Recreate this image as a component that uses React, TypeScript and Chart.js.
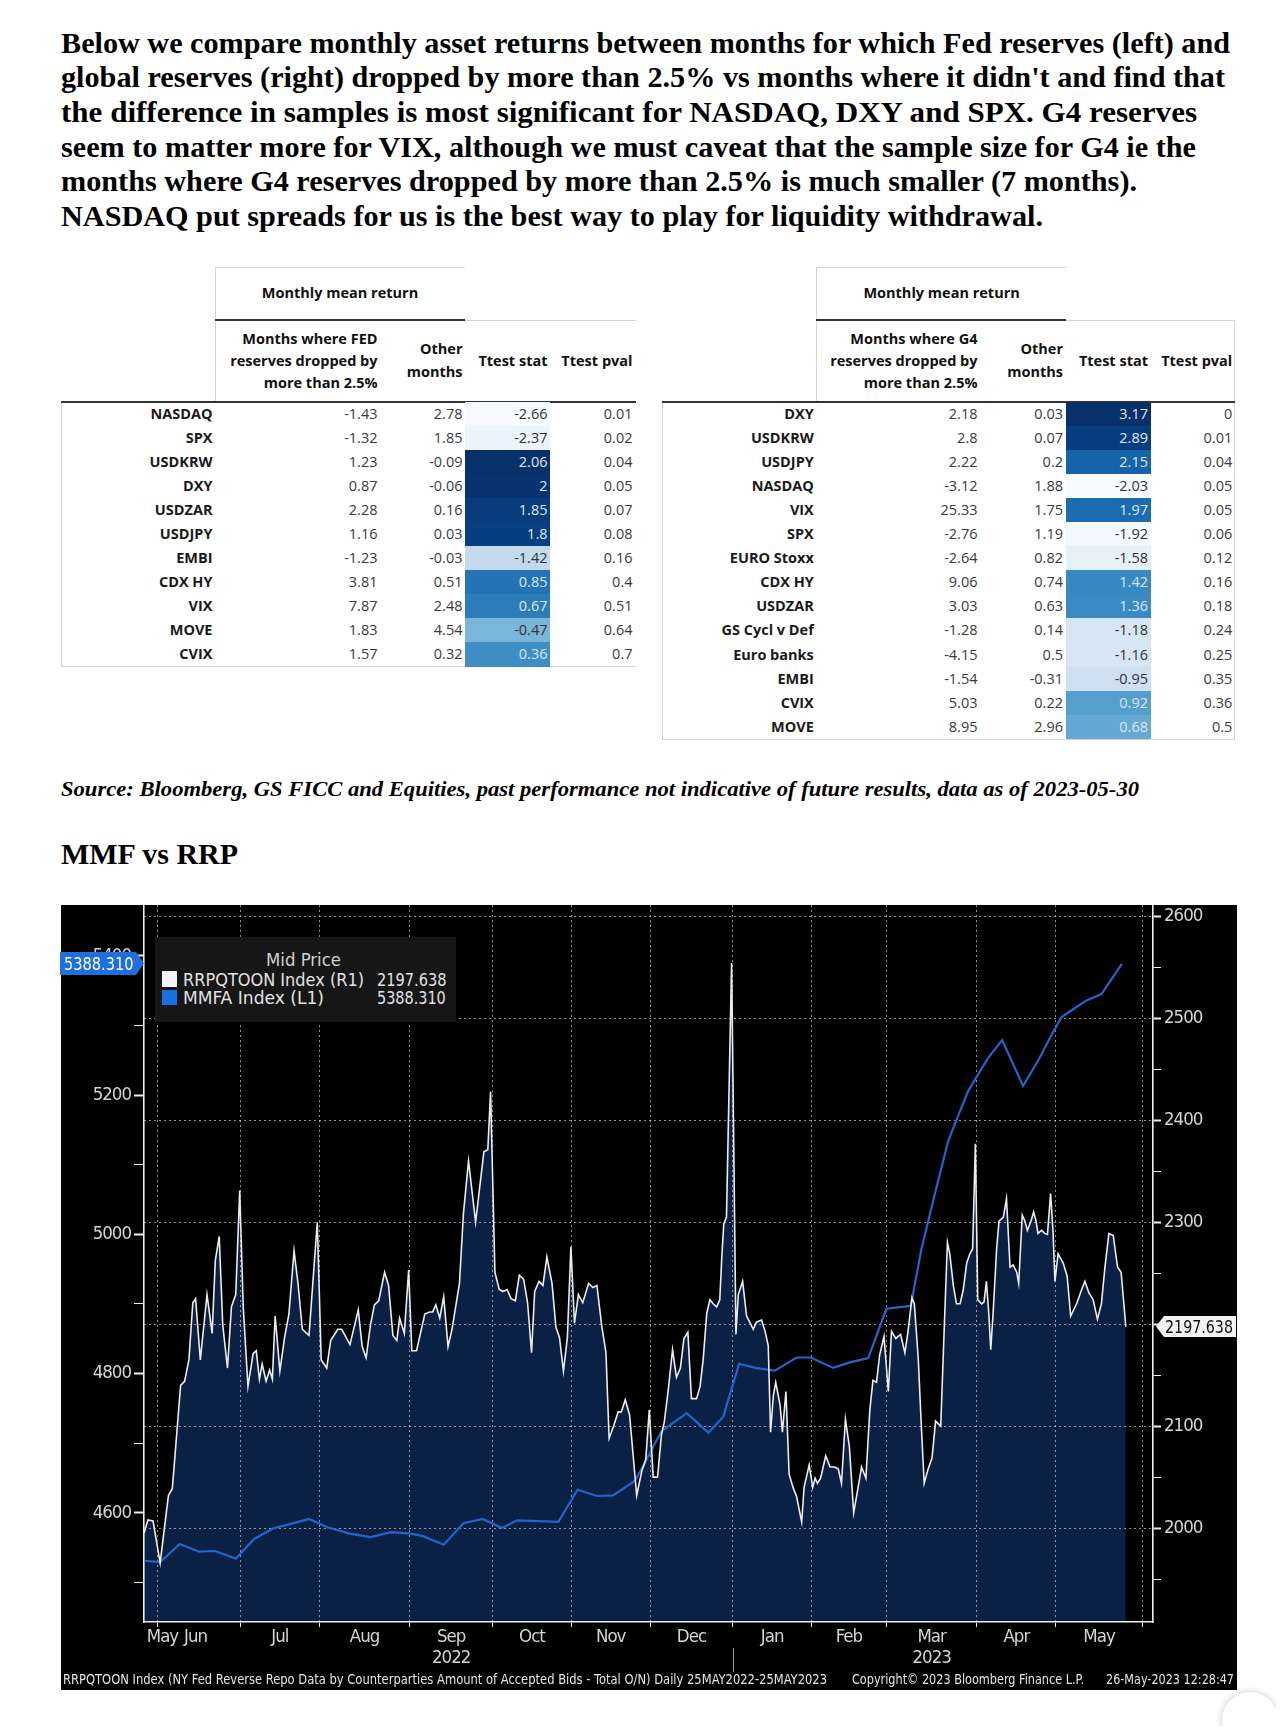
import React, { useEffect, useLayoutEffect, useRef } from "react";
import { Chart, registerables } from "chart.js";

Chart.register(...registerables);

// ---------------- DATA ----------------
// RRPQTOON Index (right axis), x = trading-day index from 25-May-2022
const rrpDay = [0,1,2.3,4.1,6.2,7.2,9.3,10.3,11.4,12.4,13.1,14.3,16,17.3,18.1,19.1,20,21.2,22.2,23.3,24.3,25.2,26.4,27.7,28.5,29.3,30,31,31.9,32.6,33.3,34.5,35.7,36.8,38.1,39.1,40.2,41.9,44,45,46.4,47.4,49.2,50.2,52.3,54.4,55.4,56.4,57.5,58.5,59.6,61.1,62.1,63.2,64.2,64.9,66.1,67.2,68,69.2,71.3,72.5,73.3,74.1,75.1,76.1,77.2,78.2,80.1,81.1,82.4,84.2,86.3,87.3,88,89.1,90.2,91.1,92.2,93.2,94.3,95.3,96.4,97.4,98.4,99.2,100.3,101.3,102.3,103.6,104.6,105.5,106.5,107.5,108.4,109.3,110.3,111.4,112.9,114,115,116.2,117.3,118.1,119.3,120.4,121.2,122.2,123.3,125.1,126.4,127.4,128.3,129.3,130.4,131.4,132.1,133.1,134.2,135.2,136.2,137.1,138.1,139,140.3,141.2,142,142.9,143.7,144.5,145.4,146.2,146.7,147.2,147.9,149.2,150.3,150.9,152,153,153.8,154.7,155.5,156.8,157.7,158.5,159.1,159.8,160.4,161.5,162.1,163,163.8,164.8,165.7,167,167.6,168.9,169.8,170.4,171,171.8,173.1,174.2,175.4,176.3,177.1,178.1,179.1,180.2,181.1,182.2,183.3,184.3,185.1,186,186.8,187.9,189,189.8,190.9,192.1,193.2,194,195,195.6,196.6,197.4,198.1,199.1,200.1,201,202.3,203.2,204,204.6,205.5,206.3,207.2,208,208.9,209.7,210.4,211.1,211.7,212.7,213.3,213.9,214.5,215,215.6,216.5,217.1,218.2,219,219.9,220.7,221.6,222.1,223,223.7,224.3,225.2,225.9,226.5,227,227.9,228.7,229.4,230.2,230.8,231.3,232.1,233.4,234.4,235.3,236.8,238,238.9,239.9,241,242.1,243.1,244,245,246.1,247.2,248.1,249.3];
const rrpVal = [1995,2008,2007,1966,2032,2039,2140,2144,2165,2221,2225,2165,2229,2191,2262,2286,2199,2157,2217,2229,2331,2217,2139,2171,2174,2146,2161,2144,2155,2146,2208,2154,2187,2210,2272,2240,2195,2189,2300,2165,2157,2184,2195,2195,2180,2214,2178,2167,2199,2219,2223,2251,2238,2189,2184,2206,2191,2253,2174,2174,2210,2212,2212,2219,2206,2227,2178,2195,2240,2308,2360,2300,2369,2371,2428,2251,2234,2232,2234,2225,2223,2248,2244,2221,2172,2232,2242,2238,2266,2240,2197,2187,2154,2187,2276,2201,2229,2221,2240,2236,2238,2199,2172,2088,2101,2114,2114,2126,2111,2032,2056,2067,2116,2050,2050,2092,2104,2135,2175,2148,2157,2186,2192,2127,2127,2139,2166,2211,2224,2220,2217,2224,2265,2298,2305,2554,2190,2229,2242,2208,2202,2195,2202,2204,2193,2179,2094,2130,2143,2121,2094,2134,2053,2040,2031,2006,2040,2062,2040,2049,2044,2049,2071,2060,2060,2058,2044,2107,2080,2015,2035,2060,2049,2116,2145,2143,2170,2188,2134,2193,2186,2190,2172,2193,2226,2220,2166,2098,2044,2058,2069,2105,2100,2197,2280,2269,2238,2220,2220,2233,2260,2269,2274,2377,2224,2220,2222,2242,2211,2175,2211,2274,2301,2305,2323,2256,2258,2251,2240,2307,2301,2292,2301,2310,2301,2289,2292,2289,2288,2328,2292,2242,2269,2260,2247,2208,2220,2233,2242,2231,2224,2205,2220,2256,2289,2287,2256,2251,2197.6];

// MMFA Index (left axis), weekly
const mmfDay = [0.2,4.1,9.1,14,18.1,23.3,27.9,32.6,37.3,41.9,46.6,52.3,57.5,62.7,67.8,71,76.1,81.1,86,90.9,94.8,100,105.2,110.1,115,119.1,124.7,131.4,137.8,143.3,147.1,151.1,155.1,160.2,165.7,169.3,175,179.2,183.9,188.5,194.7,197.4,200.8,204.2,206.7,209.3,211.4,214.3,217.9,223.2,227,230.4,233,236.4,239.3,243.1,248.3];
const mmfVal = [4531,4529,4555,4544,4545,4534,4562,4577,4584,4591,4579,4570,4565,4572,4570,4566,4554,4585,4591,4578,4589,4588,4587,4633,4624,4625,4646,4717,4743,4715,4738,4814,4808,4804,4823,4823,4808,4816,4822,4893,4897,4979,5058,5134,5170,5206,5226,5253,5279,5213,5249,5286,5312,5325,5336,5345,5388.3];

const monthBoundaries = [3.5, 24.5, 44.5, 67.5, 88.5, 108.5, 128.5, 149.5, 169.5, 188.5, 211.5, 231.5, 253.5];
const monthLabelPos = [4.7, 13.1, 34.5, 56, 78, 98.5, 118.5, 139, 159.5, 179, 200, 221.5, 242.5];
const monthLabels: any[] = ["May", "Jun", "Jul", "Aug", ["Sep", "2022"], "Oct", "Nov", "Dec", "Jan", "Feb", ["Mar", "2023"], "Apr", "May"];
const yearBoundary = 149.5;
const leftAxisTicks = [4500, 4600, 4700, 4800, 4900, 5000, 5100, 5200, 5300, 5400];
const rightAxisTicks = [1950, 2000, 2050, 2100, 2150, 2200, 2250, 2300, 2350, 2400, 2450, 2500, 2550, 2600];

// Tables
const leftLabels = ["NASDAQ", "SPX", "USDKRW", "DXY", "USDZAR", "USDJPY", "EMBI", "CDX HY", "VIX", "MOVE", "CVIX"];
const leftDrop = ["-1.43", "-1.32", "1.23", "0.87", "2.28", "1.16", "-1.23", "3.81", "7.87", "1.83", "1.57"];
const leftOther = ["2.78", "1.85", "-0.09", "-0.06", "0.16", "0.03", "-0.03", "0.51", "2.48", "4.54", "0.32"];
const leftT = [-2.66, -2.37, 2.06, 2, 1.85, 1.8, -1.42, 0.85, 0.67, -0.47, 0.36];
const leftP = ["0.01", "0.02", "0.04", "0.05", "0.07", "0.08", "0.16", "0.4", "0.51", "0.64", "0.7"];

const rightLabels = ["DXY", "USDKRW", "USDJPY", "NASDAQ", "VIX", "SPX", "EURO Stoxx", "CDX HY", "USDZAR", "GS Cycl v Def", "Euro banks", "EMBI", "CVIX", "MOVE"];
const rightDrop = ["2.18", "2.8", "2.22", "-3.12", "25.33", "-2.76", "-2.64", "9.06", "3.03", "-1.28", "-4.15", "-1.54", "5.03", "8.95"];
const rightOther = ["0.03", "0.07", "0.2", "1.88", "1.75", "1.19", "0.82", "0.74", "0.63", "0.14", "0.5", "-0.31", "0.22", "2.96"];
const rightT = [3.17, 2.89, 2.15, -2.03, 1.97, -1.92, -1.58, 1.42, 1.36, -1.18, -1.16, -0.95, 0.92, 0.68];
const rightP = ["0", "0.01", "0.04", "0.05", "0.05", "0.06", "0.12", "0.16", "0.18", "0.24", "0.25", "0.35", "0.36", "0.5"];

const paragraphLines = [
  "Below we compare monthly asset returns between months for which Fed reserves (left) and",
  "global reserves (right) dropped by more than 2.5% vs months where it didn't and find that",
  "the difference in samples is most significant for NASDAQ, DXY and SPX. G4 reserves",
  "seem to matter more for VIX, although we must caveat that the sample size for G4 ie the",
  "months where G4 reserves dropped by more than 2.5% is much smaller (7 months).",
  "NASDAQ put spreads for us is the best way to play for liquidity withdrawal.",
];
const paragraphWidths = [1169, 1164, 1136, 1135, 1076, 982];

// ---------------- HELPERS ----------------
const SERIF = "'Liberation Serif', 'Tinos', 'Times New Roman', Times, serif";
const NARROW = "'Liberation Sans Narrow', 'DejaVu Sans Condensed', 'Roboto Condensed', 'Arial Narrow', 'Liberation Sans', sans-serif";
const TABLEFONT = "'Open Sans', 'Noto Sans', 'Liberation Sans', sans-serif";
const OFF = 8;

function FitText(props: any) {
  const { x, y, w, h, text, font, size, weight, italic, color } = props;
  const ref = useRef<HTMLSpanElement>(null);
  useLayoutEffect(() => {
    const fit = () => {
      const el = ref.current;
      if (!el) return;
      el.style.transform = "none";
      const r = el.getBoundingClientRect().width;
      if (r > 0) el.style.transform = `scaleX(${w / r})`;
    };
    fit();
    const d: any = document;
    if (d.fonts && d.fonts.ready) d.fonts.ready.then(fit);
  }, [text, w]);
  return (
    <div style={{ position: "absolute", left: x - OFF, top: y - OFF - h / 2, height: h, lineHeight: `${h}px`, whiteSpace: "nowrap" }}>
      <span
        ref={ref}
        style={{ display: "inline-block", transformOrigin: "0 50%", fontFamily: font, fontSize: size, fontWeight: weight || 400, fontStyle: italic ? "italic" : "normal", color: color || "#000" }}
      >
        {text}
      </span>
    </div>
  );
}

const BLUES = ["#f7fbff", "#deebf7", "#c6dbef", "#9ecae1", "#6baed6", "#4292c6", "#2171b5", "#08519c", "#08306b"];
function hexToRgb(h: string) {
  return [parseInt(h.slice(1, 3), 16), parseInt(h.slice(3, 5), 16), parseInt(h.slice(5, 7), 16)];
}
function blues(t: number) {
  const c = Math.max(0, Math.min(1, t));
  const p = c * 8;
  const i = Math.min(7, Math.floor(p));
  const f = p - i;
  const a = hexToRgb(BLUES[i]);
  const b = hexToRgb(BLUES[i + 1]);
  const m = a.map((v, k) => Math.round(v + (b[k] - v) * f));
  return `rgb(${m[0]},${m[1]},${m[2]})`;
}

function HLine({ x1, x2, y, c, t }: any) {
  return <div style={{ position: "absolute", left: x1 - OFF, top: y - OFF, width: x2 - x1, height: t, background: c }} />;
}
function VLine({ x, y1, y2, c, t }: any) {
  return <div style={{ position: "absolute", left: x - OFF, top: y1 - OFF, width: t, height: y2 - y1, background: c }} />;
}
function TText({ xr, cx, y, text, weight, color, size }: any) {
  const W = 300;
  const left = cx !== undefined ? cx - W / 2 : xr - W;
  return (
    <div
      style={{
        position: "absolute", left: left - OFF, top: y - OFF - 11, width: W, height: 22, lineHeight: "22px",
        textAlign: cx !== undefined ? "center" : "right", fontFamily: TABLEFONT, fontSize: size || 14.5,
        fontWeight: weight || 400, color: color || "#3a3a3a", whiteSpace: "nowrap",
      }}
    >
      {text}
    </div>
  );
}

function StatTable({ g, headLines, labels, drop, other, tvals, pvals }: any) {
  const tmin = Math.min(...tvals);
  const tmax = Math.max(...tvals);
  const light = "#d4d4d4";
  const rows = labels.map((lab: string, i: number) => {
    const y = g.row0 + i * g.rowH;
    const n = (tvals[i] - tmin) / (tmax - tmin);
    return (
      <React.Fragment key={lab + i}>
        <div style={{ position: "absolute", left: g.tL - OFF, top: y - g.rowH / 2 - OFF, width: g.tR - g.tL, height: g.rowH + 0.5, background: blues(n) }} />
        <TText xr={g.labelR} y={y} text={lab} weight={700} color="#1a1a1a" />
        <TText xr={g.c1R} y={y} text={drop[i]} />
        <TText xr={g.c2R} y={y} text={other[i]} />
        <TText xr={g.tTextR} y={y} text={String(tvals[i])} color={n > 0.5 ? "#dbe8f6" : "#333"} />
        <TText xr={g.pR} y={y} text={pvals[i]} />
      </React.Fragment>
    );
  });
  return (
    <>
      <HLine x1={g.boxL} x2={g.boxR} y={g.headTop} c={light} t={1} />
      <VLine x={g.boxL} y1={g.headTop} y2={g.headBottom} c={light} t={1} />
      <HLine x1={g.boxR} x2={g.bodyR} y={g.headMid} c={light} t={1} />
      <HLine x1={g.boxL} x2={g.boxR} y={g.headMid - 1} c="#333" t={2} />
      {g.rightBorder && <VLine x={g.bodyR - 1} y1={g.headMid} y2={g.bottom} c={light} t={1} />}
      <VLine x={g.bodyL} y1={g.headBottom} y2={g.bottom} c={light} t={1} />
      <HLine x1={g.bodyL} x2={g.bodyR} y={g.bottom} c={light} t={1} />
      <HLine x1={g.bodyL} x2={g.bodyR} y={g.headBottom - 1} c="#333" t={2} />
      <TText cx={g.titleCx} y={292.7} text="Monthly mean return" weight={700} color="#111" />
      {headLines.map((s: string, i: number) => (
        <TText key={s} xr={g.c1R} y={338.7 + i * 22.2} text={s} weight={700} color="#111" />
      ))}
      <TText xr={g.c2R} y={349} text="Other" weight={700} color="#111" />
      <TText xr={g.c2R} y={372} text="months" weight={700} color="#111" />
      <TText xr={g.tTextR} y={360.7} text="Ttest stat" weight={700} color="#111" />
      <TText xr={g.pR} y={360.7} text="Ttest pval" weight={700} color="#111" />
      {rows}
    </>
  );
}

const leftGeom = {
  bodyL: 61, bodyR: 636, boxL: 215, boxR: 465, headTop: 267, headMid: 319.5, headBottom: 401.7,
  row0: 414, rowH: 24.03, labelR: 212.5, c1R: 377.5, c2R: 462.5, tL: 465, tR: 550, tTextR: 547.5, pR: 632.5,
  rightBorder: false, bottom: 666, titleCx: 340,
};
const rightGeom = {
  bodyL: 662, bodyR: 1235, boxL: 816, boxR: 1066, headTop: 267, headMid: 319.5, headBottom: 401.7,
  row0: 414, rowH: 24.05, labelR: 813.8, c1R: 977.5, c2R: 1063, tL: 1066, tR: 1150.6, tTextR: 1148, pR: 1232.3,
  rightBorder: true, bottom: 739, titleCx: 941.6,
};

// ---------------- CHART ----------------
const GRID = "rgba(205,205,205,0.7)";
const CLEAR = "rgba(0,0,0,0)";

const narrowTextPlugin = {
  id: "narrowText",
  beforeDraw(chart: any) {
    (chart.ctx as any).letterSpacing = "-1px";
  },
  afterDraw(chart: any) {
    (chart.ctx as any).letterSpacing = "0px";
  },
};

const yearSepPlugin = {
  id: "yearSep",
  afterDraw(chart: any) {
    const xs = chart.scales.x;
    const x = Math.round(xs.getPixelForValue(yearBoundary)) + 0.5;
    const b = chart.chartArea.bottom;
    const ctx = chart.ctx;
    ctx.save();
    ctx.strokeStyle = "#9a9a9a";
    ctx.lineWidth = 1;
    ctx.beginPath();
    ctx.moveTo(x, b + 26);
    ctx.lineTo(x, b + 50);
    ctx.stroke();
    ctx.restore();
  },
};

export default function App() {
  const canvasRef = useRef<HTMLCanvasElement>(null);

  useEffect(() => {
    const canvas = canvasRef.current;
    if (!canvas) return;
    const xTicks = [...monthBoundaries, ...monthLabelPos].sort((a, b) => a - b);
    const chart = new Chart(canvas, {
      type: "line",
      data: {
        datasets: [
          {
            label: "RRPQTOON Index (R1)",
            data: rrpDay.map((d, i) => ({ x: d, y: rrpVal[i] })),
            yAxisID: "y1",
            borderColor: "#ececec",
            borderWidth: 1.6,
            pointRadius: 0,
            fill: "start",
            backgroundColor: "#0a2045",
            tension: 0,
            order: 0,
          },
          {
            label: "MMFA Index (L1)",
            data: mmfDay.map((d, i) => ({ x: d, y: mmfVal[i] })),
            yAxisID: "y",
            borderColor: "#2464cc",
            borderWidth: 2.2,
            pointRadius: 0,
            fill: false,
            tension: 0,
            order: 1,
          },
        ],
      },
      options: {
        responsive: false,
        animation: false,
        layout: { padding: 0 },
        events: [],
        plugins: {
          legend: { display: false },
          tooltip: { enabled: false },
          filler: { drawTime: "beforeDraw" },
        } as any,
        scales: {
          x: {
            type: "linear",
            min: 0,
            max: 256.2,
            afterBuildTicks: (s: any) => {
              s.ticks = xTicks.map((v) => ({ value: v }));
            },
            afterFit: (s: any) => {
              s.height = 68;
              s.paddingLeft = 0;
              s.paddingRight = 0;
            },
            grid: {
              color: (c: any) => (c.tick && monthBoundaries.includes(c.tick.value) ? GRID : CLEAR),
              tickColor: (c: any) => (c.tick && monthBoundaries.includes(c.tick.value) ? "#e8e8e8" : CLEAR),
              lineWidth: 1,
              tickLength: 5,
              drawTicks: true,
            },
            border: { display: true, color: "#efefef", width: 1.6, dash: [2, 3] },
            ticks: {
              autoSkip: false,
              maxRotation: 0,
              minRotation: 0,
              padding: 0,
              color: "#d4d4d4",
              font: { family: NARROW, size: 18.5, lineHeight: 1.12 },
              callback: (v: any) => {
                const i = monthLabelPos.indexOf(Number(v));
                return i >= 0 ? monthLabels[i] : "";
              },
            },
          },
          y: {
            type: "linear",
            position: "left",
            min: 4443,
            max: 5473,
            afterBuildTicks: (s: any) => {
              s.ticks = leftAxisTicks.map((v) => ({ value: v }));
            },
            afterFit: (s: any) => {
              s.width = 83;
              s.paddingTop = 0;
              s.paddingBottom = 0;
            },
            grid: {
              drawOnChartArea: false,
              drawTicks: true,
              tickLength: 10,
              tickColor: "#efefef",
              tickWidth: (c: any) => (c.tick && c.tick.value % 200 === 0 ? 2 : 1),
            },
            border: { display: true, color: "#efefef", width: 1.6 },
            ticks: {
              autoSkip: false,
              padding: 3,
              color: "#d4d4d4",
              font: { family: NARROW, size: 18.5 },
              callback: (v: any) => (Number(v) % 200 === 0 ? String(v) : ""),
            },
          },
          y1: {
            type: "linear",
            position: "right",
            min: 1908,
            max: 2611,
            afterBuildTicks: (s: any) => {
              s.ticks = rightAxisTicks.map((v) => ({ value: v }));
            },
            afterFit: (s: any) => {
              s.width = 84;
              s.paddingTop = 0;
              s.paddingBottom = 0;
            },
            grid: {
              drawOnChartArea: true,
              drawTicks: true,
              tickLength: 8,
              color: (c: any) => (c.tick && c.tick.value % 100 === 0 ? GRID : CLEAR),
              tickColor: "#efefef",
              tickWidth: (c: any) => (c.tick && c.tick.value % 100 === 0 ? 2 : 1),
              lineWidth: 1,
            },
            border: { display: true, color: "#efefef", width: 1.6, dash: [2, 3] },
            ticks: {
              autoSkip: false,
              padding: 3,
              color: "#d4d4d4",
              font: { family: NARROW, size: 18.5 },
              callback: (v: any) => (Number(v) % 100 === 0 ? String(v) : ""),
            },
          },
        },
      } as any,
      plugins: [narrowTextPlugin, yearSepPlugin],
    });
    return () => chart.destroy();
  }, []);

  return (
    <div style={{ position: "relative", width: 1268, height: 1718, overflow: "hidden", background: "#fff" }}>
      {paragraphLines.map((line, i) => (
        <FitText key={i} x={61} y={42.5 + i * 34.7} w={paragraphWidths[i]} h={34} text={line} font={SERIF} size={30} weight={700} />
      ))}

      <StatTable g={leftGeom} headLines={["Months where FED", "reserves dropped by", "more than 2.5%"]} labels={leftLabels} drop={leftDrop} other={leftOther} tvals={leftT} pvals={leftP} />
      <StatTable g={rightGeom} headLines={["Months where G4", "reserves dropped by", "more than 2.5%"]} labels={rightLabels} drop={rightDrop} other={rightOther} tvals={rightT} pvals={rightP} />

      <FitText x={61} y={788.6} w={1078} h={28} text="Source: Bloomberg, GS FICC and Equities, past performance not indicative of future results, data as of 2023-05-30" font={SERIF} size={22} weight={700} italic />
      <FitText x={61} y={854} w={177} h={34} text="MMF vs RRP" font={SERIF} size={30} weight={700} />

      <div style={{ position: "absolute", left: 61 - OFF, top: 905 - OFF, width: 1176, height: 785, background: "#000" }}>
        <canvas ref={canvasRef} width={1176} height={785} style={{ display: "block" }} />
      </div>

      {/* legend box */}
      <div style={{ position: "absolute", left: 155 - OFF, top: 937 - OFF, width: 301, height: 85, background: "#161616" }} />
      <FitText x={266} y={960} w={75} h={22} text="Mid Price" font={NARROW} size={18} color="#d0d0d0" />
      <div style={{ position: "absolute", left: 162 - OFF, top: 971 - OFF, width: 15, height: 16, background: "#f4f4f4" }} />
      <div style={{ position: "absolute", left: 162 - OFF, top: 990 - OFF, width: 15, height: 15, background: "#1a6fe6" }} />
      <FitText x={182.7} y={979.5} w={181} h={20} text="RRPQTOON Index (R1)" font={NARROW} size={18} color="#e2e2e2" />
      <FitText x={376.5} y={979.5} w={69.5} h={20} text="2197.638" font={NARROW} size={18} color="#e2e2e2" />
      <FitText x={182.7} y={997.5} w={141} h={20} text="MMFA Index  (L1)" font={NARROW} size={18} color="#e2e2e2" />
      <FitText x={377.3} y={997.5} w={68.7} h={20} text="5388.310" font={NARROW} size={18} color="#e2e2e2" />

      {/* last value tags */}
      <div style={{ position: "absolute", left: 60 - OFF, top: 952 - OFF, width: 84, height: 23, background: "#1e6fdf", clipPath: "polygon(0 0, 76px 0, 84px 50%, 76px 100%, 0 100%)" }} />
      <FitText x={64} y={963.5} w={69.5} h={22} text="5388.310" font={NARROW} size={18} color="#ffffff" />
      <div style={{ position: "absolute", left: 1156 - OFF, top: 1316 - OFF, width: 80, height: 21, background: "#f2f2f2", clipPath: "polygon(0 50%, 8px 0, 100% 0, 100% 100%, 8px 100%)" }} />
      <FitText x={1165} y={1326.5} w={68} h={21} text="2197.638" font={NARROW} size={18} color="#111" />

      {/* footer */}
      <FitText x={63} y={1679} w={764} h={16} text="RRPQTOON Index (NY Fed Reverse Repo Data by Counterparties Amount of Accepted Bids - Total O/N)  Daily 25MAY2022-25MAY2023" font={NARROW} size={14} color="#e4e4e4" />
      <FitText x={852} y={1679} w={232} h={16} text="Copyright© 2023 Bloomberg Finance L.P." font={NARROW} size={14} color="#e4e4e4" />
      <FitText x={1106} y={1679} w={128} h={16} text="26-May-2023 12:28:47" font={NARROW} size={14} color="#e4e4e4" />

      {/* page button */}
      <div style={{ position: "absolute", left: 1222 - OFF, top: 1692 - OFF, width: 56, height: 56, borderRadius: 28, background: "#fff", boxShadow: "0 0 7px rgba(0,0,0,0.22)" }} />
      <div style={{ position: "absolute", left: 1237 - OFF, top: 1726 - OFF, width: 26, height: 3, background: "#4a8fd6" }} />
    </div>
  );
}
